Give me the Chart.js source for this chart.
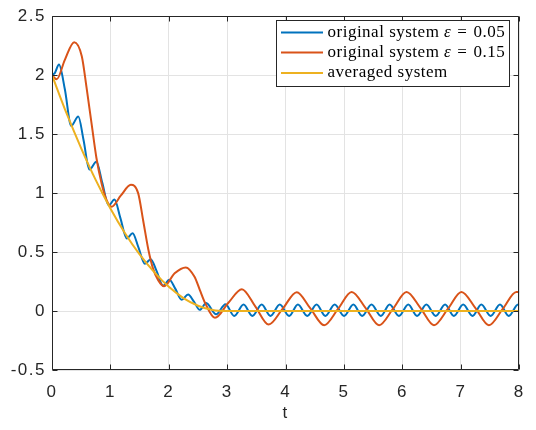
<!DOCTYPE html>
<html>
<head>
<meta charset="utf-8">
<script src="https://cdn.jsdelivr.net/npm/chart.js@4.4.1/dist/chart.umd.min.js"></script>
<style>
  html, body { margin: 0; padding: 0; background: #fff; }
  #wrap { width: 536px; height: 430px; }
</style>
</head>
<body>
<div id="wrap"><canvas id="myChart" width="536" height="430"></canvas></div>
<script>
// values
const tBlue = [0, 0.05, 0.12, 0.22, 0.33, 0.45, 0.54, 0.64, 0.76, 0.86, 0.97, 1.07, 1.17, 1.28, 1.38, 1.48,
  1.59, 1.69, 1.79, 1.90, 2.01, 2.11, 2.22, 2.33, 2.43, 2.53, 2.64, 2.81, 2.97, 3.12, 3.28, 3.43,
  3.59, 3.74, 3.90, 4.06, 4.21, 4.37, 4.53, 4.68, 4.84, 5.00, 5.16, 5.31, 5.47, 5.63, 5.78, 5.94,
  6.10, 6.25, 6.41, 6.57, 6.73, 6.88, 7.04, 7.20, 7.35, 7.51, 7.67, 7.82, 7.98, 8.0];
const yBlue = [2.0, 2.02, 2.09, 1.88, 1.57, 1.65, 1.45, 1.20, 1.265, 1.09, 0.895, 0.945, 0.79, 0.615, 0.66, 0.54,
  0.40, 0.44, 0.34, 0.215, 0.265, 0.19, 0.095, 0.14, 0.08, 0.01, 0.068, -0.028, 0.058, -0.042, 0.055, -0.042,
  0.055, -0.042, 0.055, -0.042, 0.055, -0.042, 0.055, -0.042, 0.055, -0.042, 0.055, -0.042, 0.055, -0.042, 0.055, -0.042,
  0.055, -0.042, 0.055, -0.042, 0.055, -0.042, 0.055, -0.042, 0.055, -0.042, 0.055, -0.042, 0.055, 0.054];

const tRed = [0, 0.08, 0.22, 0.38, 0.51, 0.59, 0.68, 0.76, 0.85, 0.935, 1.02, 1.18, 1.35, 1.475, 1.56,
  1.65, 1.73, 1.82, 1.92, 2.10, 2.29, 2.44, 2.53, 2.62, 2.79, 3.02, 3.25, 3.48, 3.71, 3.95, 4.19,
  4.42, 4.66, 4.90, 5.13, 5.37, 5.60, 5.84, 6.07, 6.31, 6.54, 6.78, 7.01, 7.25, 7.48, 7.72, 7.95, 8.0];
const yRed = [2.0, 1.965, 2.13, 2.28, 2.16, 1.90, 1.58, 1.30, 1.08, 0.94, 0.885, 0.98, 1.07, 1.0, 0.77,
  0.52, 0.36, 0.26, 0.21, 0.32, 0.37, 0.29, 0.18, 0.07, -0.058, 0.07, 0.185, 0.04, -0.115, 0.02, 0.16,
  0.025, -0.12, 0.02, 0.162, 0.025, -0.12, 0.02, 0.162, 0.025, -0.12, 0.02, 0.162, 0.025, -0.12, 0.02, 0.162, 0.16];

const tAvg = [0, 0.25, 0.5, 0.75, 1.0, 1.25, 1.5, 1.75, 2.0, 2.25, 2.5, 2.75, 3.0, 8.0];
const yAvg = [2.0, 1.675, 1.38, 1.11, 0.87, 0.66, 0.48, 0.33, 0.205, 0.11, 0.045, 0.008, 0, 0];

const xTicks = [0, 1, 2, 3, 4, 5, 6, 7, 8];
const yTicks = [-0.5, 0, 0.5, 1, 1.5, 2, 2.5];

const seriesNames = ['original system ', 'original system ', 'averaged system'];
const epsValues = ['0.05', '0.15', null];

const axisColor = '#262626';
const pts = (ts, ys) => ts.map((t, i) => ({ x: t, y: ys[i] }));

// wider letter spacing, like the matlab tick labels
const spacing = {
  id: 'spacing',
  beforeDraw(chart) { chart.ctx.letterSpacing = '1.5px'; }
};

const legendBox = {
  id: 'legendBox',
  afterDraw(chart) {
    const { ctx, chartArea: a, scales: { x, y } } = chart;
    ctx.save();
    // axes box + inward ticks (matlab style)
    ctx.strokeStyle = axisColor;
    ctx.lineWidth = 1;
    const L = Math.round(a.left) + 0.5, R = Math.round(a.right) - 0.5;
    const T = Math.round(a.top) + 0.5, B = Math.round(a.bottom) - 0.5;
    ctx.beginPath();
    ctx.rect(L, T, R - L, B - T);
    xTicks.forEach(v => {
      const px = Math.round(x.getPixelForValue(v)) + 0.5;
      ctx.moveTo(px, B); ctx.lineTo(px, B - 5);
      ctx.moveTo(px, T); ctx.lineTo(px, T + 5);
    });
    yTicks.forEach(v => {
      const py = Math.round(y.getPixelForValue(v)) + 0.5;
      ctx.moveTo(L, py); ctx.lineTo(L + 5, py);
      ctx.moveTo(R, py); ctx.lineTo(R - 5, py);
    });
    ctx.stroke();

    // legend
    const bx = 276.5, by = 20.5, bw = 233, bh = 66;
    ctx.fillStyle = '#fff';
    ctx.fillRect(bx, by, bw, bh);
    ctx.strokeRect(bx, by, bw, bh);
    ctx.letterSpacing = '0.5px';
    const fs = 17;
    const rows = [32.5, 52.5, 73];
    chart.data.datasets.forEach((ds, i) => {
      const ry = rows[i];
      ctx.strokeStyle = ds.borderColor;
      ctx.lineWidth = 2;
      ctx.beginPath();
      ctx.moveTo(281, ry); ctx.lineTo(323, ry);
      ctx.stroke();
      ctx.fillStyle = '#000';
      ctx.textBaseline = 'middle';
      ctx.textAlign = 'left';
      let tx = 327.5;
      ctx.font = fs + 'px "Liberation Serif"';
      ctx.fillText(seriesNames[i], tx, ry);
      tx += ctx.measureText(seriesNames[i]).width;
      if (epsValues[i]) {
        ctx.font = 'italic ' + fs + 'px "Liberation Serif"';
        ctx.fillText('ε', tx, ry);
        tx += ctx.measureText('ε').width + 6;
        ctx.font = fs + 'px "Liberation Serif"';
        ctx.fillText('=', tx, ry);
        tx += ctx.measureText('=').width + 6;
        ctx.fillText(epsValues[i], tx, ry);
      }
    });
    ctx.restore();
  }
};

const ctx = document.getElementById('myChart').getContext('2d');

const data = {
  datasets: [
    { label: 'original system ε = 0.05', data: pts(tBlue, yBlue), borderColor: '#0072BD', order: 3 },
    { label: 'original system ε = 0.15', data: pts(tRed, yRed), borderColor: '#D95319', order: 2 },
    { label: 'averaged system', data: pts(tAvg, yAvg), borderColor: '#EDB120', order: 1 }
  ]
};

const tickFont = { family: '"Liberation Sans", Arial, sans-serif', size: 17 };

const config = {
  type: 'line',
  data,
  options: {
    responsive: false,
    animation: false,
    layout: { padding: { top: 9, right: 16, left: 0, bottom: 0 } },
    datasets: {
      line: {
        borderWidth: 2,
        pointRadius: 0,
        fill: false,
        cubicInterpolationMode: 'monotone'
      }
    },
    plugins: { legend: { display: false }, tooltip: { enabled: false } },
    scales: {
      x: {
        type: 'linear',
        min: 0, max: 8,
        afterBuildTicks: s => { s.ticks = xTicks.map(v => ({ value: v })); },
        afterFit: s => { s.height = 60; },
        ticks: { color: axisColor, font: tickFont, padding: 12, maxRotation: 0, callback: v => String(v) },
        grid: { color: '#e3e3e3', drawTicks: false },
        border: { display: false },
        title: { display: true, text: 't', color: axisColor, font: tickFont, padding: { top: 0, bottom: 6 } }
      },
      y: {
        min: -0.5, max: 2.5,
        afterBuildTicks: s => { s.ticks = yTicks.map(v => ({ value: v })); },
        afterFit: s => { s.width = 52; },
        ticks: { color: axisColor, font: tickFont, padding: 6, callback: v => String(v) },
        grid: { color: '#e3e3e3', drawTicks: false },
        border: { display: false }
      }
    }
  },
  plugins: [spacing, legendBox]
};

const myChart = new Chart(ctx, config);
</script>
</body>
</html>
